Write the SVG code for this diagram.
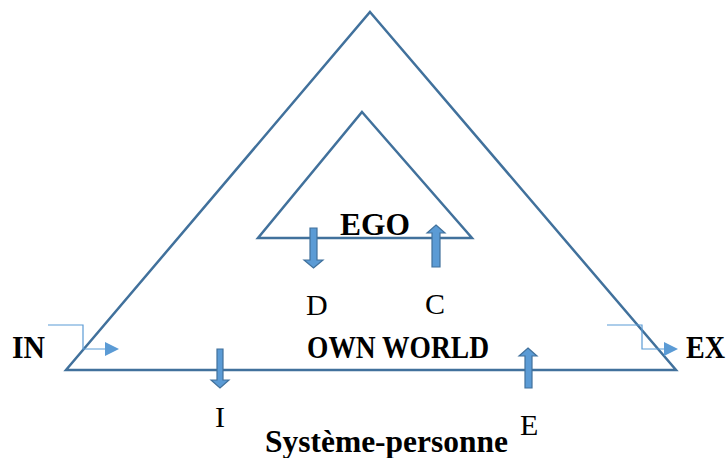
<svg xmlns="http://www.w3.org/2000/svg" width="728" height="458" viewBox="0 0 728 458">
<style>
.tri{fill:none;stroke:#41719C;stroke-width:2.5;stroke-linejoin:miter}
.blk{fill:#5B9BD5;stroke:#41719C;stroke-width:1.2}
.thin{fill:none;stroke:#5B9BD5;stroke-width:1.2}
.head{fill:#5B9BD5}
.b{font-family:"Liberation Serif","Times New Roman",serif;font-weight:bold;font-size:31px;fill:#000}
.r{font-family:"Liberation Serif","Times New Roman",serif;font-size:30px;fill:#000}
</style>
<rect width="728" height="458" fill="#fff"/>
<g id="outer-triangle"><polygon class="tri" points="370,12 676,370 66,370"/></g>
<g id="inner-triangle"><polygon class="tri" points="362,112 472,238 258,238"/></g>
<g id="connectors">
<polygon id="arrow-D" class="blk" points="310,228 317,228 317,260 323,260 313.5,268 304,260 310,260"/>
<polygon id="arrow-C" class="blk" points="436,225 445,233 440,233 440,267 432,267 432,233 427,233"/>
<polygon id="arrow-I" class="blk" points="217,349 223,349 223,380 229,380 220,388 211,380 217,380"/>
<polygon id="arrow-E" class="blk" points="528,348 537,356 532,356 532,388 525,388 525,356 519,356"/>
<path class="thin" d="M48,325H83V349H106"/>
<polygon class="head" points="105,342 119,349 105,356"/>
<path class="thin" d="M607,325H642V349H665"/>
<polygon class="head" points="664,342 678,349 664,356"/>
</g>
<g id="labels">
<text class="b" x="12" y="358" textLength="33" lengthAdjust="spacingAndGlyphs">IN</text>
<text class="b" x="686" y="358" textLength="39" lengthAdjust="spacingAndGlyphs">EX</text>
<text class="b" x="340" y="235" textLength="70" lengthAdjust="spacingAndGlyphs">EGO</text>
<text class="b" x="307" y="358" textLength="182" lengthAdjust="spacingAndGlyphs">OWN WORLD</text>
<text class="b" x="265" y="452" textLength="243" lengthAdjust="spacingAndGlyphs">Système-personne</text>
<text class="r" x="306" y="315">D</text>
<text class="r" x="425" y="314">C</text>
<text class="r" x="215" y="427">I</text>
<text class="r" x="520" y="435">E</text>
</g>
</svg>
